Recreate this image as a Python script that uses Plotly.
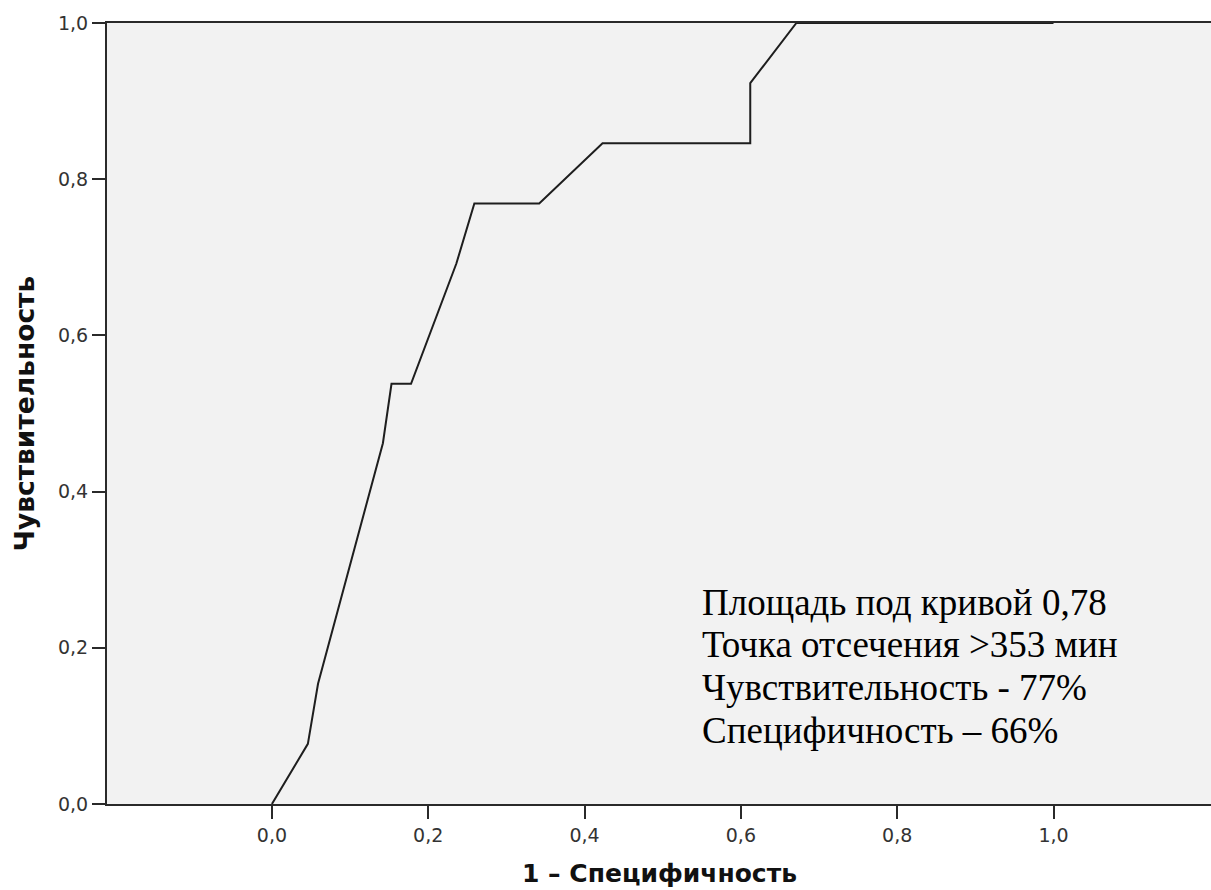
import plotly.graph_objects as go

# ROC curve data (1 - specificity, sensitivity)
fpr = [0.0, 0.046, 0.059, 0.142, 0.153, 0.178, 0.236, 0.259, 0.342, 0.423, 0.612, 0.612, 0.671, 1.0]
tpr = [0.0, 0.077, 0.154, 0.462, 0.538, 0.538, 0.692, 0.769, 0.769, 0.846, 0.846, 0.923, 1.0, 1.0]

x_ticks = [0.0, 0.2, 0.4, 0.6, 0.8, 1.0]
x_tick_labels = ["0,0", "0,2", "0,4", "0,6", "0,8", "1,0"]
y_ticks = [0.0, 0.2, 0.4, 0.6, 0.8, 1.0]
y_tick_labels = ["0,0", "0,2", "0,4", "0,6", "0,8", "1,0"]

x_title = "1 – Специфичность"
y_title = "Чувствительность"
info_lines = [
    "Площадь под кривой 0,78",
    "Точка отсечения >353 мин",
    "Чувствительность - 77%",
    "Специфичность – 66%",
]

fig = go.Figure()
fig.add_trace(go.Scatter(
    x=fpr, y=tpr, mode="lines",
    line=dict(color="#1e1e1e", width=2),
    showlegend=False, hoverinfo="skip",
))

fig.update_layout(
    width=1211, height=890,
    margin=dict(l=107, r=0, t=23, b=86),
    paper_bgcolor="white",
    plot_bgcolor="#f2f2f2",
    xaxis=dict(
        range=[-0.211, 1.2015],
        tickvals=x_ticks, ticktext=x_tick_labels,
        ticks="outside", ticklen=13, tickwidth=2, tickcolor="#2a2a2a",
        showgrid=False, zeroline=False,
        showline=True, linecolor="#2a2a2a", linewidth=2, mirror=True,
        tickfont=dict(family="DejaVu Sans", size=19, color="#333333"),
    ),
    yaxis=dict(
        range=[0, 1],
        tickvals=y_ticks, ticktext=y_tick_labels,
        ticks="outside", ticklen=13, tickwidth=2, tickcolor="#2a2a2a",
        showgrid=False, zeroline=False,
        showline=True, linecolor="#2a2a2a", linewidth=2,
        tickfont=dict(family="DejaVu Sans", size=19, color="#333333"),
    ),
)

# info text, one annotation per line (line spacing tighter than the default)
line_step = 0.0550
first_line_y = 0.2586
for i, line in enumerate(info_lines):
    fig.add_annotation(
        text=line,
        xref="x", yref="y", x=0.5477, y=first_line_y - i * line_step,
        xanchor="left", yanchor="middle", align="left",
        showarrow=False,
        font=dict(family="Liberation Serif, Times New Roman, serif", size=37, color="black"),
    )

fig.add_annotation(
    text="<b>" + x_title + "</b>",
    xref="paper", yref="paper", x=0.5, y=-0.0896,
    xanchor="center", yanchor="middle",
    showarrow=False,
    font=dict(family="DejaVu Sans", size=25, color="#111111"),
)

fig.add_annotation(
    text="<b>" + y_title + "</b>",
    xref="paper", yref="paper", x=-0.0743, y=0.5,
    xanchor="center", yanchor="middle", textangle=-90,
    showarrow=False,
    font=dict(family="DejaVu Sans", size=26.5, color="#111111"),
)

fig.write_html("out.html")
